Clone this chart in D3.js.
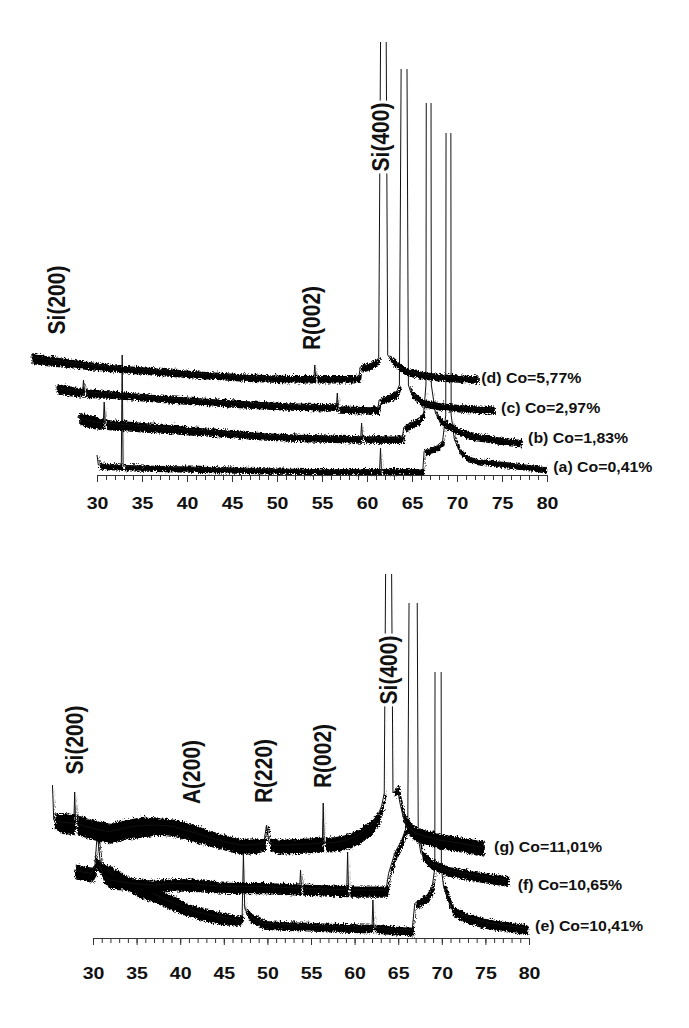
<!DOCTYPE html>
<html>
<head>
<meta charset="utf-8">
<script src="https://cdn.jsdelivr.net/npm/d3@7"></script>
<style>
  body { margin: 0; background: #fff; }
  svg { display: block; }
  text { font-family: "Liberation Sans", Arial, sans-serif; font-weight: bold; fill: #111; }
</style>
</head>
<body>
<div id="container"></div>
<script>
// 2-theta tick labels shared by both panels
const majorTicks = [30, 35, 40, 45, 50, 55, 60, 65, 70, 75, 80];

// each point: [2theta as plotted, intensity (a.u.), noise half-width]
// top panel, curves (a) to (d), shifted as in the waterfall
const curveA = [[30.0,20,1],[30.15,10,3],[31.0,10,2.5],[32.7,9.5,2.5],[32.8,120,0],[32.9,9,2.5],[35,8.5,2.5],[38.8,7.7,2.5],
  [43.7,6.7,2.5],[48.5,5.7,2.5],[53.4,5,2.5],[58.3,5,2.5],[61.4,5,2.5],[61.5,27,0],[61.6,5,2.5],[66.2,5,2.5],[66.35,24,2.5],
  [67.6,28,2.5],[68.4,34,2],[68.75,60,0],[68.8,500,0],[69.3,500,0],[69.35,60,0],[69.7,36,2],[70.2,25,2.5],[71,18,2.5],
  [72,15,2.5],[75.4,11.7,2.5],[79.8,6.7,2.5]];
const curveB = [[27.8,58,4],[28.5,56,5],[29.5,54,5],[30.7,52,4],[30.8,73,0],[30.9,52,4],[33.9,50,4],[38.8,46.7,3.5],[43.7,43.3,3],
  [48.5,40,3],[53.4,38.3,3],[58.3,37.3,3],[59.3,37,3],[59.4,52,0],[59.5,37,3],[63.9,36.7,3],[64.1,48,3],[65.6,55,3],[66.3,62,2],
  [66.55,90,0],[66.6,500,0],[67.1,500,0],[67.15,90,0],[67.6,62,2],[68,55,3],[69,50,3],[70,45,3],[71.5,40,3],[72.9,38.3,3],
  [75,35,3],[77.1,33.3,3]];
const curveC = [[25.4,88,4],[26.5,86,4],[28.4,83.5,3.5],[28.5,95,0],[28.6,83.3,3.5],[31.5,81.7,3],[36.3,78.3,3],[41.2,75,3],
  [46.1,72.3,3],[51,70,3],[55.9,69,3],[56.6,69,3],[56.7,82,0],[56.8,67,3],[61.2,65.7,3],[61.35,75,3],[63.2,81.7,3],[63.6,90,2],
  [63.85,500,0],[64.4,500,0],[64.6,90,2],[64.9,81.7,3],[66.1,73.3,3],[68,70,3],[71,67.5,3],[74.1,65.7,3]];
const curveD = [[22.6,118,4],[24.5,115.5,4],[26.6,113.3,3.5],[31.5,108.3,3],[36.3,105,3],[41.2,101.7,3],[46.1,99,3],[51,97.3,3],
  [54.1,97.3,3],[54.2,110,0],[54.3,97.3,3],[58.3,97.3,3],[59.1,98,3],[59.25,108,3],[60.7,111.7,3],[61.3,117,2],[61.55,500,0],
  [62.1,500,0],[62.3,120,2],[62.7,115,3],[64.1,105,3],[66.1,101,3],[68,99,3],[72.2,96.7,3]];

const topNames = ["(a) Co=0,41%", "(b) Co=1,83%", "(c) Co=2,97%", "(d) Co=5,77%"];
const topNameAt = [[80.7, 8], [77.9, 37], [74.9, 67], [72.7, 97]];
const topClip = [342, 372, 406, 433];
const topPeaks = [["Si(200)", 25.56, 175], ["R(002)", 53.9, 157], ["Si(400)", 61.55, 338]];

// bottom panel, curves (e) to (g)
const curveE = [[30.1,78,4],[30.8,70,5],[31.9,66,6],[33,60,6],[34.4,53,6],[35.5,48,6],[36.9,44.7,6],[38,40,6],[39.4,34.7,6],
  [40.6,30,5],[41.9,26.3,5],[43.2,23.5,5],[44.5,21.3,5],[46.7,18,4],[47.1,22,3],[47.25,85,0],[47.4,30,2],[47.7,24,4],[48,21.3,4],
  [49.5,14.7,3.5],[52,13.5,3.5],[54.5,13,3.5],[57,12,3.5],[59.6,11.3,3.5],[62.0,11,3.5],[62.1,38,0],[62.2,11,3.5],[64.5,9,3.5],
  [66.6,8,3.5],[66.9,34.7,3],[68.2,41.3,4],[68.9,51.3,4],[69.2,70,0],[69.25,500,0],[69.9,500,0],[69.95,70,0],[70.2,51.3,4],
  [70.7,38,4],[71.2,28,4],[72.7,21.3,4],[74.7,16.3,4],[77,13,4],[79.7,9.7,4]];
const curveF = [[27.8,68,6],[28.8,66,6],[29.8,64.7,6],[30.2,70,5],[30.45,100,2],[30.6,95,2],[30.9,70,5],[31.2,62,6],[31.9,58,6],
  [34.4,54.7,5],[36.9,53,5],[39.4,54.7,5],[41.9,54,5],[44.5,52,4.5],[47,51.5,4.5],[49.5,51.3,4.5],[53.7,50,4.5],[53.8,68,0],
  [53.9,50,4.5],[57,49,4.5],[59.1,48.5,4.5],[59.2,86,0],[59.3,48,4.5],[61.5,48,4.5],[63.6,48,4.5],[63.9,64.7,4],[64.6,84.7,4],
  [65.4,98,4],[66.1,115,2],[66.35,500,0],[67.1,500,0],[67.3,100,3],[67.6,84.7,4],[68.7,74.7,4],[70.7,68,4],[73.7,63,4],[77.5,58,4]];
const curveG = [[25.35,153,0],[25.5,118,6],[26.3,116,8],[27.8,114.7,8],[27.9,146,0],[28.0,114.7,8],[29.3,111.3,8],[30.6,108,8],
  [31.9,106.3,8],[33.2,109,8],[34.4,111.3,8],[35.6,112.5,8],[36.9,113,7],[38.2,112.5,7],[39.4,111.3,7],[40.6,108,7],[41.9,104.7,7],
  [43.2,101,6],[44.5,98,6],[45.7,95,6],[47,93,6],[48.3,93,6],[49.6,95,5],[49.9,113,2],[50.2,95,5],[50.8,93,6],[52,93,6],
  [54.5,94,6],[56.3,95,6],[56.4,135,0],[56.5,95,6],[57.6,95.3,6],[58.6,97,6],[59.6,99.7,6],[60.4,103,6],[61.1,108,6],[61.9,113,6],
  [62.6,121.3,5],[63.1,132,4],[63.4,145,3],[63.65,500,0],[64.15,500,0],[64.4,145,3],[64.9,150,4],[65.2,135,4],[65.6,120,5],
  [66.1,111.3,6],[66.8,106,6],[67.6,103,6],[69.7,98,6],[72.2,94.7,6],[74.7,90.7,6]];

const botNames = ["(e) Co=10,41%", "(f) Co=10,65%", "(g) Co=11,01%"];
const botNameAt = [[80.7, 12], [78.7, 53], [76, 91]];
const botClip = [266, 335, 364];
const botPeaks = [["Si(200)", 27.94, 198], ["A(200)", 41.35, 166], ["R(220)", 49.66, 167], ["R(002)", 56.4, 182], ["Si(400)", 63.94, 268]];

// layout of the two panels (pixels)
const width = 689, height = 1028;
const stretch = 1.15;   // lettering in the figure is a little wider than tall
const bandWidth = 1.25; // drawn thickness of the noise band vs. its read half-width
const panels = [
  { curves: [curveA, curveB, curveC, curveD], names: topNames, nameAt: topNameAt, clip: topClip, peaks: topPeaks,
    xRange: [97, 547], yRange: [475, 42], yMax: 433, tickPad: 15 },
  { curves: [curveE, curveF, curveG], names: botNames, nameAt: botNameAt, clip: botClip, peaks: botPeaks,
    xRange: [93, 529], yRange: [938, 574], yMax: 364, tickPad: 22 }
];

const svg = d3.select("#container").append("svg")
  .attr("width", width).attr("height", height);
svg.append("rect").attr("width", width).attr("height", height).attr("fill", "#fff");
const defs = svg.append("defs");

// ragged edge for the noise band (texture only)
const rough = defs.append("filter").attr("id", "rough")
  .attr("x", "-5%").attr("y", "-60%").attr("width", "110%").attr("height", "220%");
rough.append("feTurbulence").attr("type", "turbulence")
  .attr("baseFrequency", "0.9 0.4").attr("numOctaves", 1).attr("seed", 4).attr("result", "t");
rough.append("feDisplacementMap").attr("in", "SourceGraphic").attr("in2", "t")
  .attr("scale", 5).attr("xChannelSelector", "R").attr("yChannelSelector", "G");

panels.forEach((p, pi) => {
  const x = d3.scaleLinear().domain([30, 80]).range(p.xRange);
  const y = d3.scaleLinear().domain([0, p.yMax]).range(p.yRange);
  const g = svg.append("g").attr("class", "panel");

  const line = d3.line().x(d => x(d[0])).y(d => y(d[1]));
  const band = d3.area().x(d => x(d[0]))
    .y0(d => y(d[1] - d[2] * bandWidth)).y1(d => y(d[1] + d[2] * bandWidth));

  p.curves.forEach((c, ci) => {
    // peaks run off scale: cut them at the top of each curve's frame
    const id = `clip-${pi}-${ci}`;
    defs.append("clipPath").attr("id", id)
      .append("rect").attr("x", 0).attr("width", width)
      .attr("y", y(p.clip[ci])).attr("height", height);
    const cg = g.append("g").attr("clip-path", `url(#${id})`);
    cg.append("path").datum(c).attr("d", band)
      .attr("fill", "#000").attr("filter", "url(#rough)");
    cg.append("path").datum(c).attr("d", line)
      .attr("fill", "none").attr("stroke", "#111").attr("stroke-width", 1);
  });

  // curve names at the right end
  g.selectAll("text.name").data(p.names).enter().append("text")
    .attr("class", "name")
    .attr("transform", (d, i) => `translate(${x(p.nameAt[i][0])},${y(p.nameAt[i][1])}) scale(${stretch},1)`)
    .attr("dominant-baseline", "central")
    .style("font-size", "13.8px")
    .text(d => d);

  // peak labels, vertical, with white backing so the lines stop behind them
  const pl = g.selectAll("g.peak").data(p.peaks).enter().append("g")
    .attr("class", "peak")
    .attr("transform", d => `translate(${x(d[1])},${y(d[2])}) scale(${stretch},1) rotate(-90)`);
  pl.append("text")
    .attr("text-anchor", "middle")
    .attr("dominant-baseline", "central")
    .style("font-size", "21px")
    .text(d => d[0]);
  pl.each(function () {
    const t = d3.select(this).select("text").node().getBBox();
    d3.select(this).insert("rect", "text")
      .attr("x", t.x - 2).attr("y", t.y + 1)
      .attr("width", t.width + 4).attr("height", t.height - 2)
      .attr("fill", "#fff");
  });

  // 2-theta axis: minor ticks every degree, labelled ticks every 5
  const minor = g.append("g").attr("transform", `translate(0,${p.yRange[0]})`)
    .call(d3.axisBottom(x).tickValues(d3.range(30, 81)).tickSize(5).tickSizeOuter(0).tickFormat(""));
  minor.select(".domain").remove();
  const major = g.append("g").attr("transform", `translate(0,${p.yRange[0]})`)
    .call(d3.axisBottom(x).tickValues(majorTicks).tickSize(7).tickSizeOuter(0).tickPadding(p.tickPad).tickFormat(d3.format("d")));
  major.selectAll("text")
    .attr("transform", `scale(${stretch},1)`)
    .style("font-size", "17px");
  g.selectAll(".tick line").attr("stroke", "#333");
  major.select(".domain").attr("stroke", "#333");
});
</script>
</body>
</html>
